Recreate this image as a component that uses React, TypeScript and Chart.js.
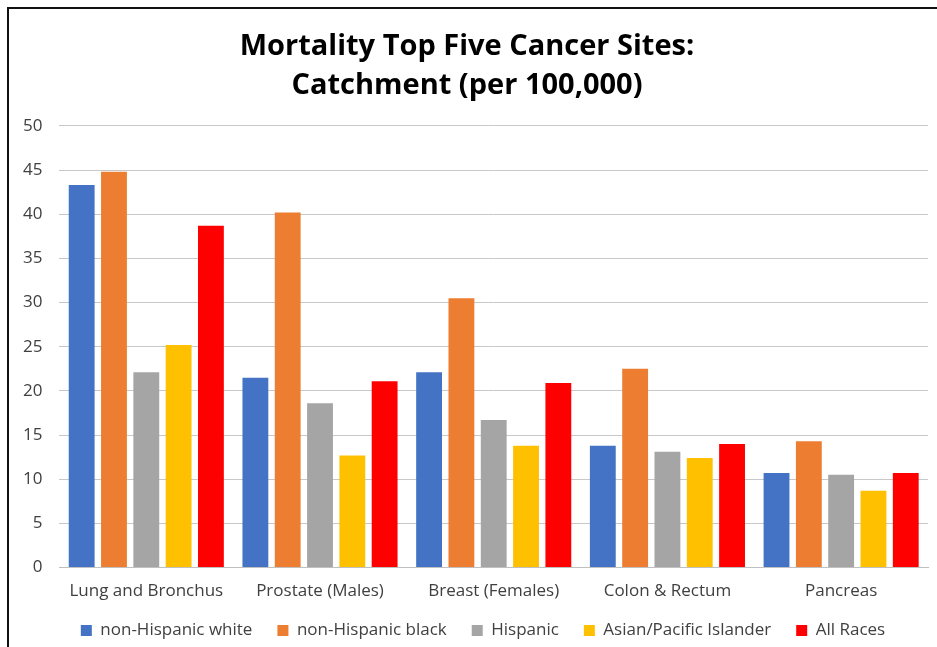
import React, { useEffect, useRef } from "react";
import { Chart, registerables } from "chart.js";

Chart.register(...registerables);

const categories = ["Lung and Bronchus", "Prostate (Males)", "Breast (Females)", "Colon & Rectum", "Pancreas"];
const seriesNames = ["non-Hispanic white", "non-Hispanic black", "Hispanic", "Asian/Pacific Islander", "All Races"];
const seriesColors = ["#4472C4", "#ED7D31", "#A5A5A5", "#FFC000", "#FF0000"];
const nhWhite = [43.3, 21.5, 22.1, 13.8, 10.7];
const nhBlack = [44.8, 40.2, 30.5, 22.5, 14.3];
const hispanic = [22.1, 18.6, 16.7, 13.1, 10.5];
const asianPI = [25.2, 12.7, 13.8, 12.4, 8.7];
const allRaces = [38.7, 21.1, 20.9, 14.0, 10.7];
const titleLines = ["Mortality Top Five Cancer Sites:", "Catchment (per 100,000)"];

const LEGEND_FIT_CUT = 19;
const LEGEND_DRAW_UP = 17;
const LEGEND_DRAW_RIGHT = 16;

const legendTweak = {
  id: "legendTweak",
  beforeUpdate(chart: any) {
    const lg = chart.legend;
    if (!lg || lg.__tweaked) return;
    lg.__tweaked = true;
    const origFit = lg.fit.bind(lg);
    lg.fit = function () {
      origFit();
      this.height -= LEGEND_FIT_CUT;
    };
    const origDraw = lg.draw.bind(lg);
    lg.draw = function () {
      const t = this.top, l = this.left, r = this.right;
      this.top = t - LEGEND_DRAW_UP;
      this.left = l + LEGEND_DRAW_RIGHT;
      this.right = r + LEGEND_DRAW_RIGHT;
      origDraw();
      this.top = t;
      this.left = l;
      this.right = r;
    };
  },
};

export default function App() {
  const ref = useRef<HTMLCanvasElement | null>(null);
  useEffect(() => {
    if (!ref.current) return;
    const values = [nhWhite, nhBlack, hispanic, asianPI, allRaces];
    const chart = new Chart(ref.current, {
      type: "bar",
      data: {
        labels: categories,
        datasets: seriesNames.map((n, i) => ({
          label: n,
          data: values[i],
          backgroundColor: seriesColors[i],
          borderWidth: 0,
          categoryPercentage: 0.93,
          barPercentage: 0.8,
        })),
      },
      options: {
        animation: false,
        responsive: false,
        maintainAspectRatio: false,
        layout: { padding: { left: 6, right: 9, top: 0, bottom: 0 } },
        plugins: {
          title: {
            display: true,
            text: titleLines,
            color: "#000",
            font: { family: "Open Sans", size: 29, weight: "bold", lineHeight: 1.36 },
            padding: { top: 27, bottom: 20 },
          },
          legend: {
            position: "bottom",
            labels: {
              boxWidth: 11,
              boxHeight: 11,
              color: "#404040",
              font: { family: "Open Sans", size: 17 },
              padding: 25,
            },
          },
          tooltip: { enabled: false },
        },
        scales: {
          x: {
            grid: { display: false, drawTicks: false },
            border: { color: "#c0c0c0" },
            ticks: { color: "#404040", font: { family: "Open Sans", size: 17 }, padding: 13 },
          },
          y: {
            min: 0,
            max: 50,
            ticks: { stepSize: 5, color: "#404040", font: { family: "Open Sans", size: 17 }, padding: 17 },
            grid: { color: "#c8c8c8", drawTicks: false },
            border: { display: false },
          },
        },
      },
      plugins: [legendTweak],
    });
    return () => chart.destroy();
  }, []);
  return (
    <div style={{ position: "fixed", left: 0, top: 0, width: 937, height: 647, background: "#fff", overflow: "hidden" }}>
      <canvas ref={ref} width={937} height={647} style={{ position: "absolute", left: 0, top: 0 }} />
      <div style={{ position: "absolute", left: 7, top: 7, width: 940, height: 650, borderLeft: "2px solid #111", borderTop: "2px solid #111" }} />
    </div>
  );
}
